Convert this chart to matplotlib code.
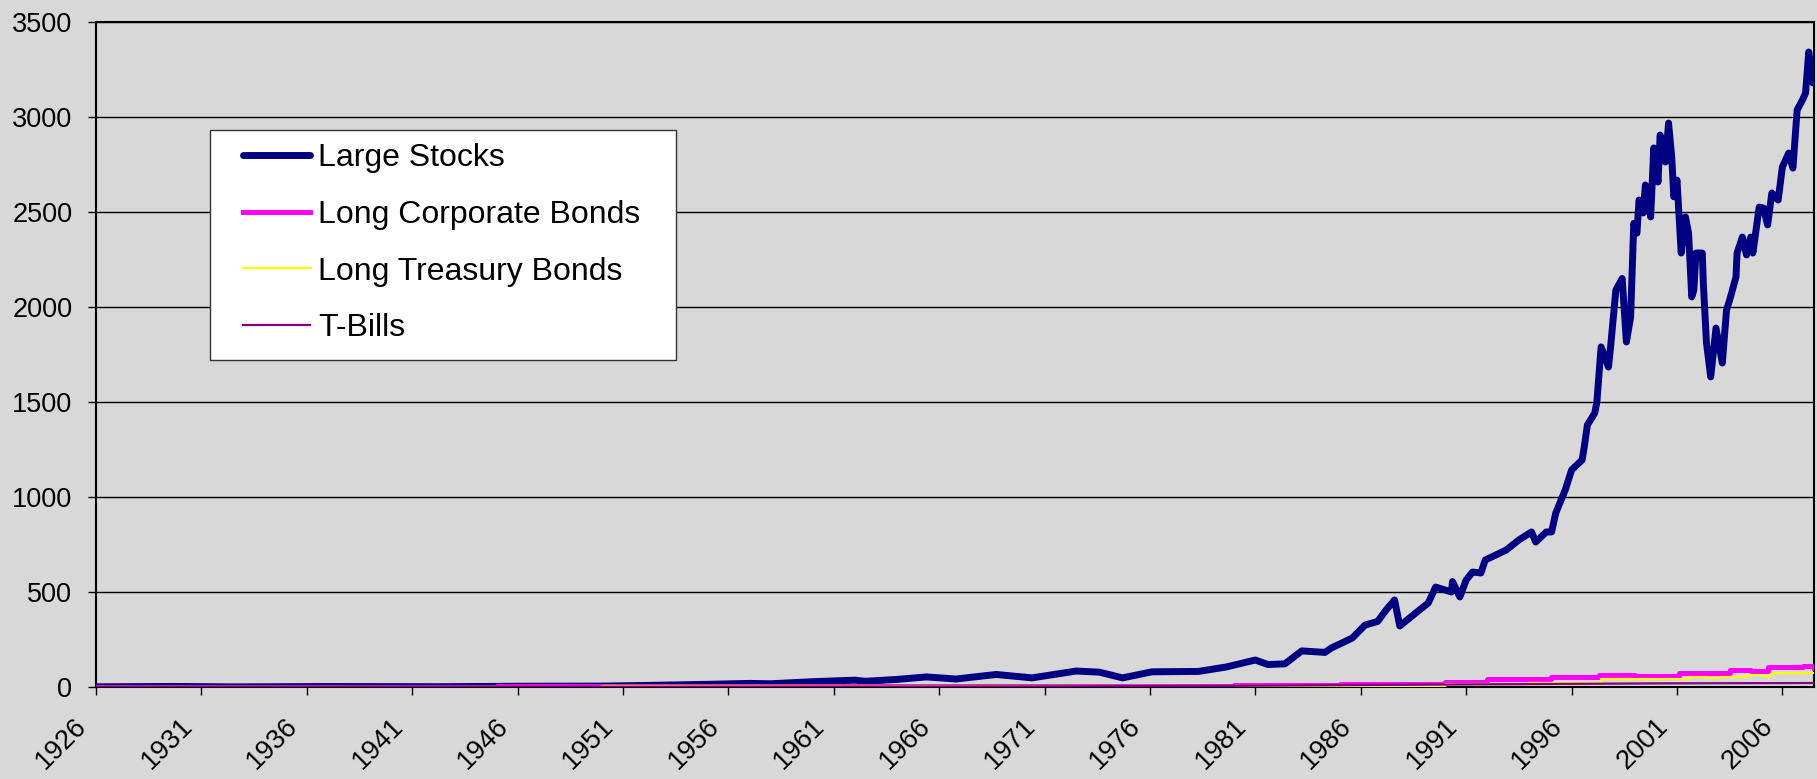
import matplotlib.pyplot as plt
import matplotlib.transforms as mtransforms
from matplotlib.patches import Rectangle

plt.rcParams['font.family'] = ['Liberation Sans', 'DejaVu Sans']

# valores (anio decimal, valor)
stock_years = [1926.0, 1929.7, 1932.5, 1937.0, 1942.3, 1946.4, 1950.0, 1952.0, 1955.0, 1957.0,
               1958.0, 1960.0, 1962.0, 1962.5, 1964.0, 1965.4, 1966.8, 1968.7, 1970.4, 1972.5,
               1973.6, 1974.7, 1976.1, 1978.3, 1979.6, 1981.0, 1981.6, 1982.4, 1983.2, 1984.3,
               1984.6, 1985.6, 1986.2, 1986.8, 1987.2, 1987.6, 1987.85, 1988.6, 1989.2, 1989.55,
               1990.3, 1990.35, 1990.7, 1991.0, 1991.3, 1991.7, 1991.9, 1992.9, 1993.5, 1994.1,
               1994.3, 1994.8, 1995.05, 1995.25, 1995.7, 1996.0, 1996.5, 1996.6, 1996.75, 1997.1,
               1997.2, 1997.4, 1997.75, 1997.85, 1998.1, 1998.4, 1998.6, 1998.8, 1998.95, 1999.1,
               1999.2, 1999.4, 1999.5, 1999.75, 1999.9, 2000.1, 2000.2, 2000.45, 2000.6, 2000.75,
               2000.85, 2001.0, 2001.2, 2001.4, 2001.55, 2001.7, 2001.8, 2001.9, 2002.2, 2002.25,
               2002.4, 2002.6, 2002.85, 2003.15, 2003.35, 2003.5, 2003.8, 2003.85, 2004.1, 2004.3,
               2004.5, 2004.6, 2004.9, 2005.1, 2005.3, 2005.5, 2005.8, 2006.0, 2006.3, 2006.5,
               2006.7, 2006.95, 2007.1, 2007.25, 2007.45]
large_stocks = [1, 2.9, 0.7, 2.5, 1.5, 4.2, 4.8, 8, 14, 19,
                17, 28, 36, 30, 40, 53, 42, 66, 48, 84,
                78, 48, 80, 82, 105, 142, 118, 122, 190, 182,
                205, 258, 326, 345, 405, 458, 321, 389, 442, 526,
                500, 555, 474, 563, 605, 600, 668, 721, 774, 816,
                763, 816, 816, 916, 1037, 1142, 1195, 1263, 1379, 1442,
                1500, 1790, 1684, 1790, 2089, 2150, 1816, 1947, 2440, 2389,
                2563, 2495, 2642, 2474, 2837, 2658, 2905, 2763, 2968, 2790,
                2580, 2668, 2284, 2474, 2389, 2053, 2089, 2284, 2284, 2126,
                1810, 1632, 1889, 1705, 1984, 2037, 2158, 2284, 2368, 2274,
                2368, 2284, 2526, 2521, 2432, 2600, 2563, 2737, 2810, 2731,
                3037, 3089, 3126, 3342, 3179]

corp_years = [1926.0, 1935.0, 1945.0, 1955.0, 1965.0, 1975.0, 1980.0, 1981.0, 1985.0, 1990.0,
              1992.0, 1994.0, 1995.0, 1997.3, 1999.0, 2001.1, 2003.5, 2004.5, 2005.3, 2007.0, 2007.5]
corp_bonds = [1, 2, 3.5, 4, 5, 7, 9, 8.5, 16, 25,
              42, 40, 53, 63, 60, 74, 89, 86, 105, 111, 100]

treas_years = [1926.0, 1940.0, 1950.0, 1960.0, 1970.0, 1980.0, 1984.0, 1990.0, 1994.0, 1996.0,
               1997.4, 2001.5, 2002.4, 2003.0, 2004.3, 2005.0, 2005.5, 2007.5]
treas_bonds = [1, 2.5, 3, 3, 3.5, 5, 7, 15, 22, 23,
               42, 53, 45, 53, 63, 60, 74, 74]

bill_years = [1926.0, 1950.0, 1970.0, 1980.0, 1990.0, 2000.0, 2007.5]
t_bills = [1, 1.6, 3.3, 6, 13, 19, 21]

year_ticks = list(range(1926, 2007, 5))
bg = '#d8d8d8'

fig = plt.figure(figsize=(18.17, 7.79), dpi=100, facecolor=bg)
ax = fig.add_axes([96 / 1817, 92 / 779, 1718 / 1817, 665 / 779])
ax.set_facecolor(bg)

ax.plot(stock_years, large_stocks, color='#000080', lw=5, solid_joinstyle='round',
        solid_capstyle='round', label='Large Stocks', zorder=3)
ax.plot(corp_years, corp_bonds, color='#ff00ff', lw=3.6, drawstyle='steps-post',
        label='Long Corporate Bonds', zorder=4)
ax.plot(treas_years, treas_bonds, color='#ffff00', lw=1.6, drawstyle='steps-post',
        label='Long Treasury Bonds', zorder=5)
ax.plot(bill_years, t_bills, color='#800080', lw=1.6, label='T-Bills', zorder=6)

ax.set_xlim(1926, 2007.5)
ax.set_ylim(0, 3500)
ax.set_yticks(range(0, 3501, 500))
ax.yaxis.grid(True, color='black', lw=1)
ax.set_axisbelow(True)

ax.set_xticks(year_ticks)
ax.set_xticklabels([str(y) for y in year_ticks], rotation=45, ha='right', va='top',
                   rotation_mode='anchor')
ax.tick_params(axis='x', length=6, width=1, pad=13, labelsize=19.5)
ax.tick_params(axis='y', length=6, width=1, pad=11, labelsize=19.5)
offset = mtransforms.ScaledTranslation(-22 / 100, 0, fig.dpi_scale_trans)
for lab in ax.get_xticklabels():
    lab.set_transform(lab.get_transform() + offset)

for s in ax.spines.values():
    s.set_color('black')
    s.set_linewidth(1.5)

# caja de la leyenda dibujada a mano
box = Rectangle((0.0664, 0.4917), 0.3376 - 0.0664, 0.8376 - 0.4917, transform=ax.transAxes,
                facecolor='white', edgecolor='#333333', lw=1, zorder=9)
ax.add_patch(box)
leg = ax.legend(loc='upper left', bbox_to_anchor=((243 - 96) / 1718, (687 - 143) / 665),
                borderaxespad=0, borderpad=0, fontsize=23, handlelength=2.1,
                handletextpad=0.25, labelspacing=0.84, frameon=False)
leg.set_zorder(10)

fig.savefig('out.png', dpi=100, facecolor=bg)
